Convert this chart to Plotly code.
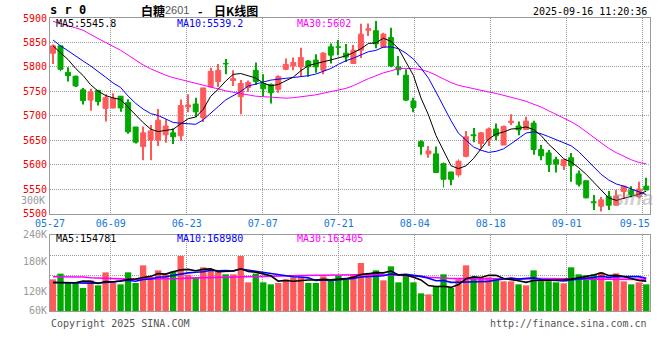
import plotly.graph_objects as go

# ---------------- data ----------------
dates = ["05-27", "05-28", "05-29", "05-30",
         "06-03", "06-04", "06-05", "06-06", "06-09", "06-10", "06-11", "06-12", "06-13",
         "06-16", "06-17", "06-18", "06-19", "06-20", "06-23", "06-24", "06-25", "06-26",
         "06-27", "06-30",
         "07-01", "07-02", "07-03", "07-04", "07-07", "07-08", "07-09", "07-10", "07-11",
         "07-14", "07-15", "07-16", "07-17", "07-18", "07-21", "07-22", "07-23", "07-24",
         "07-25", "07-28", "07-29", "07-30", "07-31",
         "08-01", "08-04", "08-05", "08-06", "08-07", "08-08", "08-11", "08-12", "08-13",
         "08-14", "08-15", "08-18", "08-19", "08-20", "08-21", "08-22", "08-25", "08-26",
         "08-27", "08-28", "08-29",
         "09-01", "09-02", "09-03", "09-04", "09-05", "09-08", "09-09", "09-10", "09-11",
         "09-12", "09-15", "09-16"]

open_ = [5828, 5843, 5789, 5781, 5753, 5732, 5752, 5715, 5716, 5740,
         5727, 5677, 5637, 5650, 5650, 5661, 5665, 5659, 5718, 5724,
         5696, 5759, 5770, 5807, 5772, 5739, 5758, 5793, 5766, 5764,
         5754, 5795, 5802, 5800, 5812, 5814, 5793, 5841, 5841, 5828,
         5807, 5834, 5875, 5874, 5840, 5860, 5800, 5783, 5730, 5647,
         5622, 5622, 5602, 5585, 5579, 5617, 5661, 5643, 5650, 5673,
         5640, 5686, 5679, 5672, 5685, 5631, 5624, 5610, 5598, 5614,
         5581, 5567, 5524, 5515, 5535, 5517, 5545, 5548, 5534, 5556]
high = [5846, 5845, 5799, 5782, 5757, 5755, 5752, 5744, 5746, 5740,
        5734, 5677, 5678, 5681, 5714, 5693, 5674, 5733, 5744, 5737,
        5757, 5798, 5806, 5816, 5793, 5773, 5772, 5809, 5785, 5766,
        5783, 5817, 5819, 5839, 5814, 5826, 5830, 5848, 5855, 5847,
        5845, 5888, 5889, 5894, 5870, 5880, 5822, 5795, 5737, 5650,
        5638, 5637, 5605, 5585, 5611, 5669, 5675, 5667, 5676, 5684,
        5680, 5703, 5688, 5698, 5690, 5640, 5630, 5616, 5610, 5624,
        5588, 5567, 5538, 5534, 5546, 5548, 5557, 5556, 5565, 5573]
low = [5806, 5791, 5770, 5759, 5723, 5710, 5721, 5688, 5715, 5708,
       5663, 5643, 5609, 5609, 5638, 5645, 5642, 5649, 5707, 5697,
       5687, 5758, 5759, 5785, 5761, 5703, 5749, 5763, 5739, 5725,
       5747, 5793, 5793, 5780, 5780, 5788, 5785, 5807, 5824, 5810,
       5806, 5818, 5863, 5838, 5839, 5799, 5783, 5730, 5707, 5620,
       5614, 5583, 5553, 5558, 5574, 5615, 5646, 5633, 5638, 5650,
       5640, 5681, 5660, 5672, 5620, 5609, 5585, 5584, 5589, 5565,
       5555, 5531, 5507, 5504, 5507, 5517, 5530, 5533, 5531, 5548]
close = [5843, 5795, 5782, 5761, 5731, 5749, 5729, 5737, 5736, 5716,
         5667, 5646, 5665, 5669, 5691, 5679, 5657, 5721, 5722, 5708,
         5757, 5791, 5793, 5806, 5776, 5766, 5768, 5770, 5755, 5747,
         5780, 5805, 5809, 5819, 5800, 5800, 5828, 5824, 5840, 5820,
         5834, 5867, 5878, 5847, 5867, 5802, 5794, 5732, 5717, 5637,
         5628, 5584, 5570, 5570, 5607, 5657, 5659, 5665, 5673, 5659,
         5678, 5689, 5671, 5689, 5631, 5618, 5600, 5601, 5610, 5598,
         5560, 5532, 5522, 5528, 5517, 5536, 5556, 5538, 5550, 5548]

ma5 = [5843, 5830, 5815, 5797, 5782.4, 5763.6, 5750.4, 5741.4, 5736.4, 5733.4,
       5717.0, 5700.4, 5686.0, 5672.6, 5667.6, 5670.0, 5672.2, 5683.4, 5694.0, 5697.4,
       5713.0, 5739.8, 5754.2, 5771.0, 5784.6, 5786.4, 5781.8, 5777.2, 5767.0, 5761.2,
       5764.0, 5771.4, 5779.2, 5792.0, 5802.6, 5806.6, 5811.2, 5814.2, 5818.4, 5822.4,
       5829.2, 5837.0, 5847.8, 5849.2, 5858.6, 5852.2, 5837.6, 5808.4, 5782.4, 5736.4,
       5701.6, 5659.6, 5627.2, 5597.8, 5591.8, 5597.6, 5612.6, 5631.6, 5652.2, 5662.6,
       5666.8, 5672.8, 5674.0, 5677.2, 5671.6, 5659.6, 5641.8, 5627.8, 5612.0, 5605.4,
       5593.8, 5580.2, 5564.4, 5548.0, 5531.8, 5527.0, 5531.8, 5535.0, 5539.4, 5545.6]
ma10 = [5855, 5843, 5833, 5822, 5812, 5802, 5791, 5779, 5767, 5757.9,
        5740.3, 5725.4, 5713.7, 5704.5, 5700.5, 5693.5, 5686.3, 5684.7, 5683.3, 5682.5,
        5691.5, 5706.0, 5718.8, 5732.5, 5741.0, 5749.7, 5760.8, 5765.7, 5769.0, 5772.9,
        5775.2, 5776.6, 5778.2, 5779.5, 5781.9, 5785.3, 5791.3, 5796.7, 5805.2, 5812.5,
        5817.9, 5824.1, 5831.0, 5833.8, 5840.5, 5840.7, 5837.3, 5828.1, 5815.8, 5797.5,
        5776.9, 5748.6, 5717.8, 5690.1, 5664.1, 5649.6, 5636.1, 5629.4, 5625.0, 5627.2,
        5632.2, 5642.7, 5652.8, 5664.7, 5667.1, 5663.2, 5657.3, 5650.9, 5644.6, 5638.5,
        5626.7, 5611.0, 5596.1, 5580.0, 5568.6, 5560.4, 5556.0, 5549.7, 5543.7, 5538.7]
ma30 = [5893, 5889, 5884, 5880, 5875, 5866, 5858, 5850, 5842, 5834,
        5824, 5814, 5804, 5796, 5789, 5783, 5778, 5774, 5771, 5767,
        5762, 5758, 5755, 5751, 5748, 5745, 5742, 5740, 5739, 5737.8,
        5735.7, 5736.0, 5736.9, 5738.8, 5741.1, 5742.8, 5746.1, 5749.0, 5752.5, 5756.0,
        5761.5, 5768.9, 5776.0, 5781.9, 5787.8, 5791.9, 5796.5, 5796.8, 5796.7, 5794.3,
        5790.0, 5783.1, 5775.7, 5767.8, 5762.2, 5758.5, 5754.9, 5751.4, 5748.7, 5745.7,
        5742.3, 5738.5, 5733.9, 5729.5, 5723.9, 5717.8, 5710.2, 5702.8, 5695.1, 5687.7,
        5678.6, 5667.4, 5655.6, 5644.9, 5633.3, 5624.4, 5616.5, 5610.0, 5604.4, 5601.5]

volume = [163700, 193000, 149900, 149900, 118900, 158500, 132700, 199900, 146500, 137900,
          199900, 144800, 236100, 175800, 210200, 187800, 205100, 284300, 187800, 174100,
          225800, 217100, 210200, 189600, 189600, 284300, 148200, 193000, 148200, 137900,
          144800, 163700, 174100, 174100, 144800, 144800, 179200, 163700, 184400, 163700,
          184400, 248200, 184400, 210200, 158500, 230900, 148200, 184400, 148200, 91300,
          86200, 124100, 189600, 118900, 163700, 236100, 174100, 174100, 174100, 163700,
          153400, 153400, 137900, 132700, 210200, 153400, 153400, 148200, 143000, 225800,
          189600, 184400, 189600, 199900, 153400, 194700, 153400, 137900, 148200, 137900]
vol_ma5 = [147000, 147000, 146000, 146000, 155100, 154000, 142000, 152000, 151300, 155100,
           163400, 165800, 173000, 178900, 193400, 190900, 203000, 212600, 215000, 207800,
           215400, 217800, 203000, 203400, 206500, 218200, 204400, 200900, 192700, 182300,
           154400, 157500, 153700, 158900, 160300, 160300, 163400, 161300, 163400, 167200,
           175100, 188900, 193000, 198200, 197100, 206400, 186400, 186400, 174000, 160600,
           131700, 126800, 127900, 122000, 136500, 166500, 176500, 173400, 184400, 184400,
           167900, 163700, 156500, 148200, 157500, 157500, 157500, 159600, 161600, 164800,
           172000, 178200, 186500, 197900, 183400, 184400, 178200, 167900, 157500, 154400]
vol_ma10 = [147000, 146000, 146000, 145000, 144000, 144000, 145000, 147000, 150000, 155100,
            158700, 153900, 162500, 165100, 174200, 177200, 184400, 192800, 197000, 200600,
            203200, 210400, 207800, 209200, 207100, 216800, 211100, 202000, 198000, 194400,
            186300, 181000, 177300, 175800, 171300, 157400, 160500, 157500, 161200, 163700,
            167700, 176100, 177200, 180800, 182200, 190800, 187700, 189700, 186100, 178900,
            169100, 156600, 157200, 148000, 148600, 149100, 151700, 150600, 153200, 160500,
            167200, 170100, 164900, 166300, 171000, 162700, 160600, 158000, 154900, 161100,
            164800, 167900, 173000, 179800, 174100, 178200, 178200, 177200, 177700, 168900]
vol_ma30 = [177000, 177000, 177000, 177000, 176000, 172000, 170000, 168000, 166000, 165000,
            165000, 165000, 165000, 165000, 165000, 166000, 167000, 168000, 170000, 171000,
            173000, 175000, 176000, 177000, 178000, 179000, 180000, 181000, 182000, 183400,
            182700, 181800, 182600, 183400, 184200, 183800, 185300, 184100, 185400, 186200,
            185700, 189200, 187400, 188600, 186900, 188300, 186400, 183100, 181800, 179000,
            174300, 171200, 170600, 168200, 167300, 165700, 166600, 166000, 166800, 167700,
            168000, 167600, 166400, 165000, 167200, 167500, 166700, 166100, 164800, 166800,
            167000, 164900, 165000, 164700, 164500, 163300, 163500, 161900, 161900, 163500]

price_ticks = [5500, 5550, 5600, 5650, 5700, 5750, 5800, 5850, 5900]
date_tick_idx = [0, 8, 18, 28, 38, 48, 58, 68, 78]
vol_tick_text = ["240K", "180K", "120K", "60K"]

# ---------------- style / geometry ----------------
RED = "#ff5a5a"
GREEN = "#00a800"
MONO = "DejaVu Sans Mono"
GRID = "#999999"
BORDER = "#9a9a9a"
W, H = 660, 360
ML, MR, MT, MB = 50, 10, 18, 49
PLOT_H = H - MT - MB
XR = [-0.4, 79.5]
px_per_unit = (W - ML - MR) / (XR[1] - XR[0])


def ax(px):
    return (px - ML) / (W - ML - MR)


def ay(py):
    return (H - MB - py) / PLOT_H


price_dom = [ay(213.5), 1.0]
vol_dom = [0.0, ay(234.7)]
vol_per_px = 5170.0
vol_top = (H - MB - 234.7) * vol_per_px

x = list(range(len(close)))
colors = [RED if c >= o else GREEN for o, c in zip(open_, close)]
body_base = [min(o, c) for o, c in zip(open_, close)]
body_h = [abs(c - o) for o, c in zip(open_, close)]
wick_h = [h - l for h, l in zip(high, low)]

# Sina spaces its date grid slightly wider than the candles
grid_pos = [7.6 * k / px_per_unit + XR[0] for k in date_tick_idx]
label_pos = grid_pos[:-1] + [(634.7 - ML) / px_per_unit + XR[0]]
date_labels = [dates[k] for k in date_tick_idx]

fig = go.Figure()

fig.add_trace(go.Bar(x=x, y=wick_h, base=low, width=0.13,
                     marker=dict(color=colors, line=dict(width=0)),
                     xaxis="x", yaxis="y", hoverinfo="skip"))
fig.add_trace(go.Bar(x=x, y=body_h, base=body_base, width=0.66,
                     marker=dict(color=colors, line=dict(color=colors, width=1)),
                     xaxis="x", yaxis="y", customdata=dates,
                     hovertemplate="%{customdata}<extra></extra>"))
fig.add_trace(go.Scatter(x=x, y=ma30, mode="lines", line=dict(color="#ff00ff", width=1),
                         xaxis="x", yaxis="y", hoverinfo="skip"))
fig.add_trace(go.Scatter(x=x, y=ma10, mode="lines", line=dict(color="#0000ff", width=1),
                         xaxis="x", yaxis="y", hoverinfo="skip"))
fig.add_trace(go.Scatter(x=x, y=ma5, mode="lines", line=dict(color="#000000", width=1),
                         xaxis="x", yaxis="y", hoverinfo="skip"))

fig.add_trace(go.Bar(x=x, y=volume, width=0.84, marker=dict(color=colors, line=dict(width=0)),
                     xaxis="x2", yaxis="y2", hoverinfo="skip"))
fig.add_trace(go.Scatter(x=x, y=vol_ma30, mode="lines", line=dict(color="#ff00ff", width=1.6),
                         xaxis="x2", yaxis="y2", hoverinfo="skip"))
fig.add_trace(go.Scatter(x=x, y=vol_ma10, mode="lines", line=dict(color="#0000ff", width=1.6),
                         xaxis="x2", yaxis="y2", hoverinfo="skip"))
fig.add_trace(go.Scatter(x=x, y=vol_ma5, mode="lines", line=dict(color="#000000", width=1.6),
                         xaxis="x2", yaxis="y2", hoverinfo="skip"))

frame = dict(zeroline=False, showline=True, linecolor=BORDER, linewidth=1, mirror=True, ticks="")
DASH = "1px,1px"
grid = dict(showgrid=True, gridcolor=GRID, gridwidth=1, griddash=DASH)

vol_grid_vals = [(H - MB - py) * vol_per_px for py in (255.5, 275.5, 295.5)]
vol_label_vals = [vol_top - 200, (H - MB - 261) * vol_per_px, (H - MB - 291) * vol_per_px, 200]

fig.update_layout(
    width=W, height=H,
    margin=dict(l=ML, r=MR, t=MT, b=MB, pad=0),
    paper_bgcolor="white", plot_bgcolor="white",
    showlegend=False, barmode="overlay",
    font=dict(family=MONO, size=10, color="#000"),
    xaxis=dict(domain=[0, 1], range=XR, anchor="y", tickmode="array", tickvals=label_pos,
               ticktext=date_labels, showgrid=False,
               tickfont=dict(family=MONO, size=10, color="#1478d4"),
               minor=dict(tickmode="array", tickvals=grid_pos, ticks="", **grid), **frame),
    xaxis2=dict(domain=[0, 1], range=XR, anchor="y2", tickmode="array", tickvals=grid_pos,
                showticklabels=False, **grid, **frame),
    yaxis=dict(domain=price_dom, range=[price_ticks[0], price_ticks[-1]], anchor="x",
               tickmode="array", tickvals=price_ticks,
               tickfont=dict(family=MONO, size=10, color="#ee0000"), **grid, **frame),
    yaxis2=dict(domain=vol_dom, range=[0, vol_top], anchor="x2", tickmode="array",
                tickvals=vol_label_vals, ticktext=vol_tick_text, showgrid=False,
                tickfont=dict(family=MONO, size=10, color="#999999"),
                minor=dict(tickmode="array", tickvals=vol_grid_vals, ticks="", **grid), **frame),
)


def note(text, px, py, anchor="left", color="#000", size=10, family=MONO):
    fig.add_annotation(text=text, x=ax(px), y=ay(py), xref="paper", yref="paper",
                       xanchor=anchor, yanchor="middle", showarrow=False,
                       font=dict(family=family, size=size, color=color))


CJK = "Noto Sans CJK SC"
note("<b>s r 0</b>", 48, 10.5, size=12)
note("<b>白糖</b>", 139, 10, size=12, family=CJK)
note("2601", 163, 10.5, size=11, family="Liberation Sans", color="#555555")
note("<b>-</b>", 200, 10, anchor="center", size=12, family=CJK)
note("<b>日K线图</b>", 212, 10, size=12, family=CJK)
note("2025-09-16 11:20:36", 649, 11.5, anchor="right")

note(f"MA5:{ma5[-1] + 0.2:.1f}", 54, 24, color="#000000")
note(f"MA10:{ma10[-1] + 0.5:.1f}", 175, 24, color="#0000ff")
note(f"MA30:{ma30[-1]:.0f}", 295, 24, color="#ff00ff")

note("MA5:154781", 54, 238.5, color="#000000")
note("MA10:168980", 175, 238.5, color="#0000ff")
note("MA30:163405", 295, 238.5, color="#ff00ff")

note("300K", 47, 200.7, anchor="right", color="#999999")
note("Copyright 2025 SINA.COM", 49, 323.5, color="#555555")
note("http://finance.sina.com.cn", 649, 323.5, anchor="right", color="#555555")
note("<b><i>sina</i></b>", 633, 198, anchor="center", size=20, family="Liberation Sans",
     color="rgba(150,150,150,0.45)")

fig.write_html("out.html", config={"displayModeBar": False},
               post_script="document.body.style.margin='0';")
